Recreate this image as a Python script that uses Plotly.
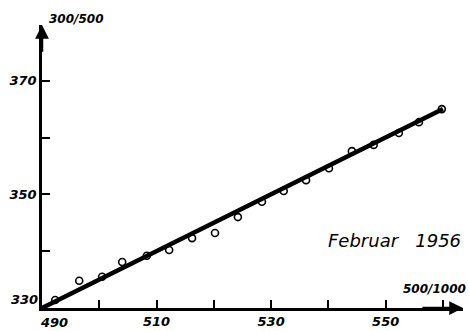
import plotly.graph_objects as go

# Observed points (x in 500/1000 units, y in 300/500 units)
obs_x = [488.0, 492.3, 496.5, 500.5, 504.0, 508.3, 512.2, 516.2, 520.2, 524.2,
         528.4, 532.2, 536.1, 540.1, 544.1, 547.9, 552.3, 555.8, 559.8]
obs_y = [329.9, 331.4, 334.8, 335.5, 338.1, 339.2, 340.2, 342.3, 343.2, 346.0,
         348.7, 350.6, 352.5, 354.6, 357.6, 358.7, 360.8, 362.7, 365.0]

# Fitted straight line (end points)
fit_x = [490, 560]
fit_y = [330, 365]

x_tickvals = [490, 500, 510, 520, 530, 540, 550, 560]
x_ticktext = ["", "", "510", "", "530", "", "550", ""]
y_tickvals = [330, 340, 350, 360, 370]
y_ticktext = ["", "", "350", "", "370"]
corner_x_label = "490"
corner_y_label = "330"

x_range = [490, 563.5]
y_range = [330, 379.8]

FONT = "DejaVu Sans"

fig = go.Figure()
fig.add_trace(go.Scatter(x=fit_x, y=fit_y, mode="lines",
                         line=dict(color="black", width=4.5), cliponaxis=False,
                         hoverinfo="skip", showlegend=False))
fig.add_trace(go.Scatter(x=obs_x, y=obs_y, mode="markers",
                         marker=dict(symbol="circle-open", size=7, color="black",
                                     line=dict(width=1.6, color="black")),
                         cliponaxis=False, showlegend=False))

tickfont = dict(family=FONT, size=13, color="black", style="italic", weight="bold")

fig.update_layout(
    width=469, height=331,
    margin=dict(l=42, r=6, t=25, b=23),
    paper_bgcolor="white", plot_bgcolor="white",
    showlegend=False,
    xaxis=dict(range=x_range, tickvals=x_tickvals, ticktext=x_ticktext,
               ticks="inside", ticklen=8, tickwidth=1.5, tickcolor="black",
               showline=True, linecolor="black", linewidth=2.5,
               showgrid=False, zeroline=False, automargin=False,
               tickfont=tickfont, fixedrange=True),
    yaxis=dict(range=y_range, tickvals=y_tickvals, ticktext=y_ticktext,
               ticks="inside", ticklen=8, tickwidth=1.5, tickcolor="black",
               showline=True, linecolor="black", linewidth=2.5,
               showgrid=False, zeroline=False, automargin=False,
               tickfont=tickfont, fixedrange=True),
)

# Axis arrows
fig.add_annotation(xref="x domain", yref="y domain", x=1, y=0,
                   axref="x domain", ayref="y domain", ax=0.9, ay=0,
                   showarrow=True, arrowhead=2, arrowsize=1.1, arrowwidth=2.5,
                   arrowcolor="black", text="", standoff=0, startstandoff=0)
fig.add_annotation(xref="x domain", yref="y domain", x=0, y=1,
                   axref="x domain", ayref="y domain", ax=0, ay=0.9,
                   showarrow=True, arrowhead=2, arrowsize=1.1, arrowwidth=2.5,
                   arrowcolor="black", text="", standoff=0, startstandoff=0)

# Corner tick labels, shifted apart as in the original
fig.add_annotation(xref="paper", yref="paper", x=0.0285, y=-0.05,
                   xanchor="center", yanchor="middle", showarrow=False,
                   text=corner_x_label, font=tickfont)
fig.add_annotation(xref="paper", yref="paper", x=-0.005, y=0.03,
                   xanchor="right", yanchor="middle", showarrow=False,
                   text=corner_y_label, font=tickfont)

fig.add_annotation(xref="paper", yref="paper", x=0.012, y=1.022,
                   xanchor="left", yanchor="middle", showarrow=False,
                   text="300/500",
                   font=dict(family=FONT, size=12, color="black", style="italic", weight="bold"))
fig.add_annotation(xref="paper", yref="paper", x=1.012, y=0.067,
                   xanchor="right", yanchor="middle", showarrow=False,
                   text="500/1000",
                   font=dict(family=FONT, size=12, color="black", style="italic", weight="bold"))
fig.add_annotation(xref="paper", yref="paper", x=1.0, y=0.237,
                   xanchor="right", yanchor="middle", showarrow=False,
                   text="Februar\u00a0\u00a0\u00a01956",
                   font=dict(family=FONT, size=18, color="black", style="italic"))

fig.write_html("out.html")
